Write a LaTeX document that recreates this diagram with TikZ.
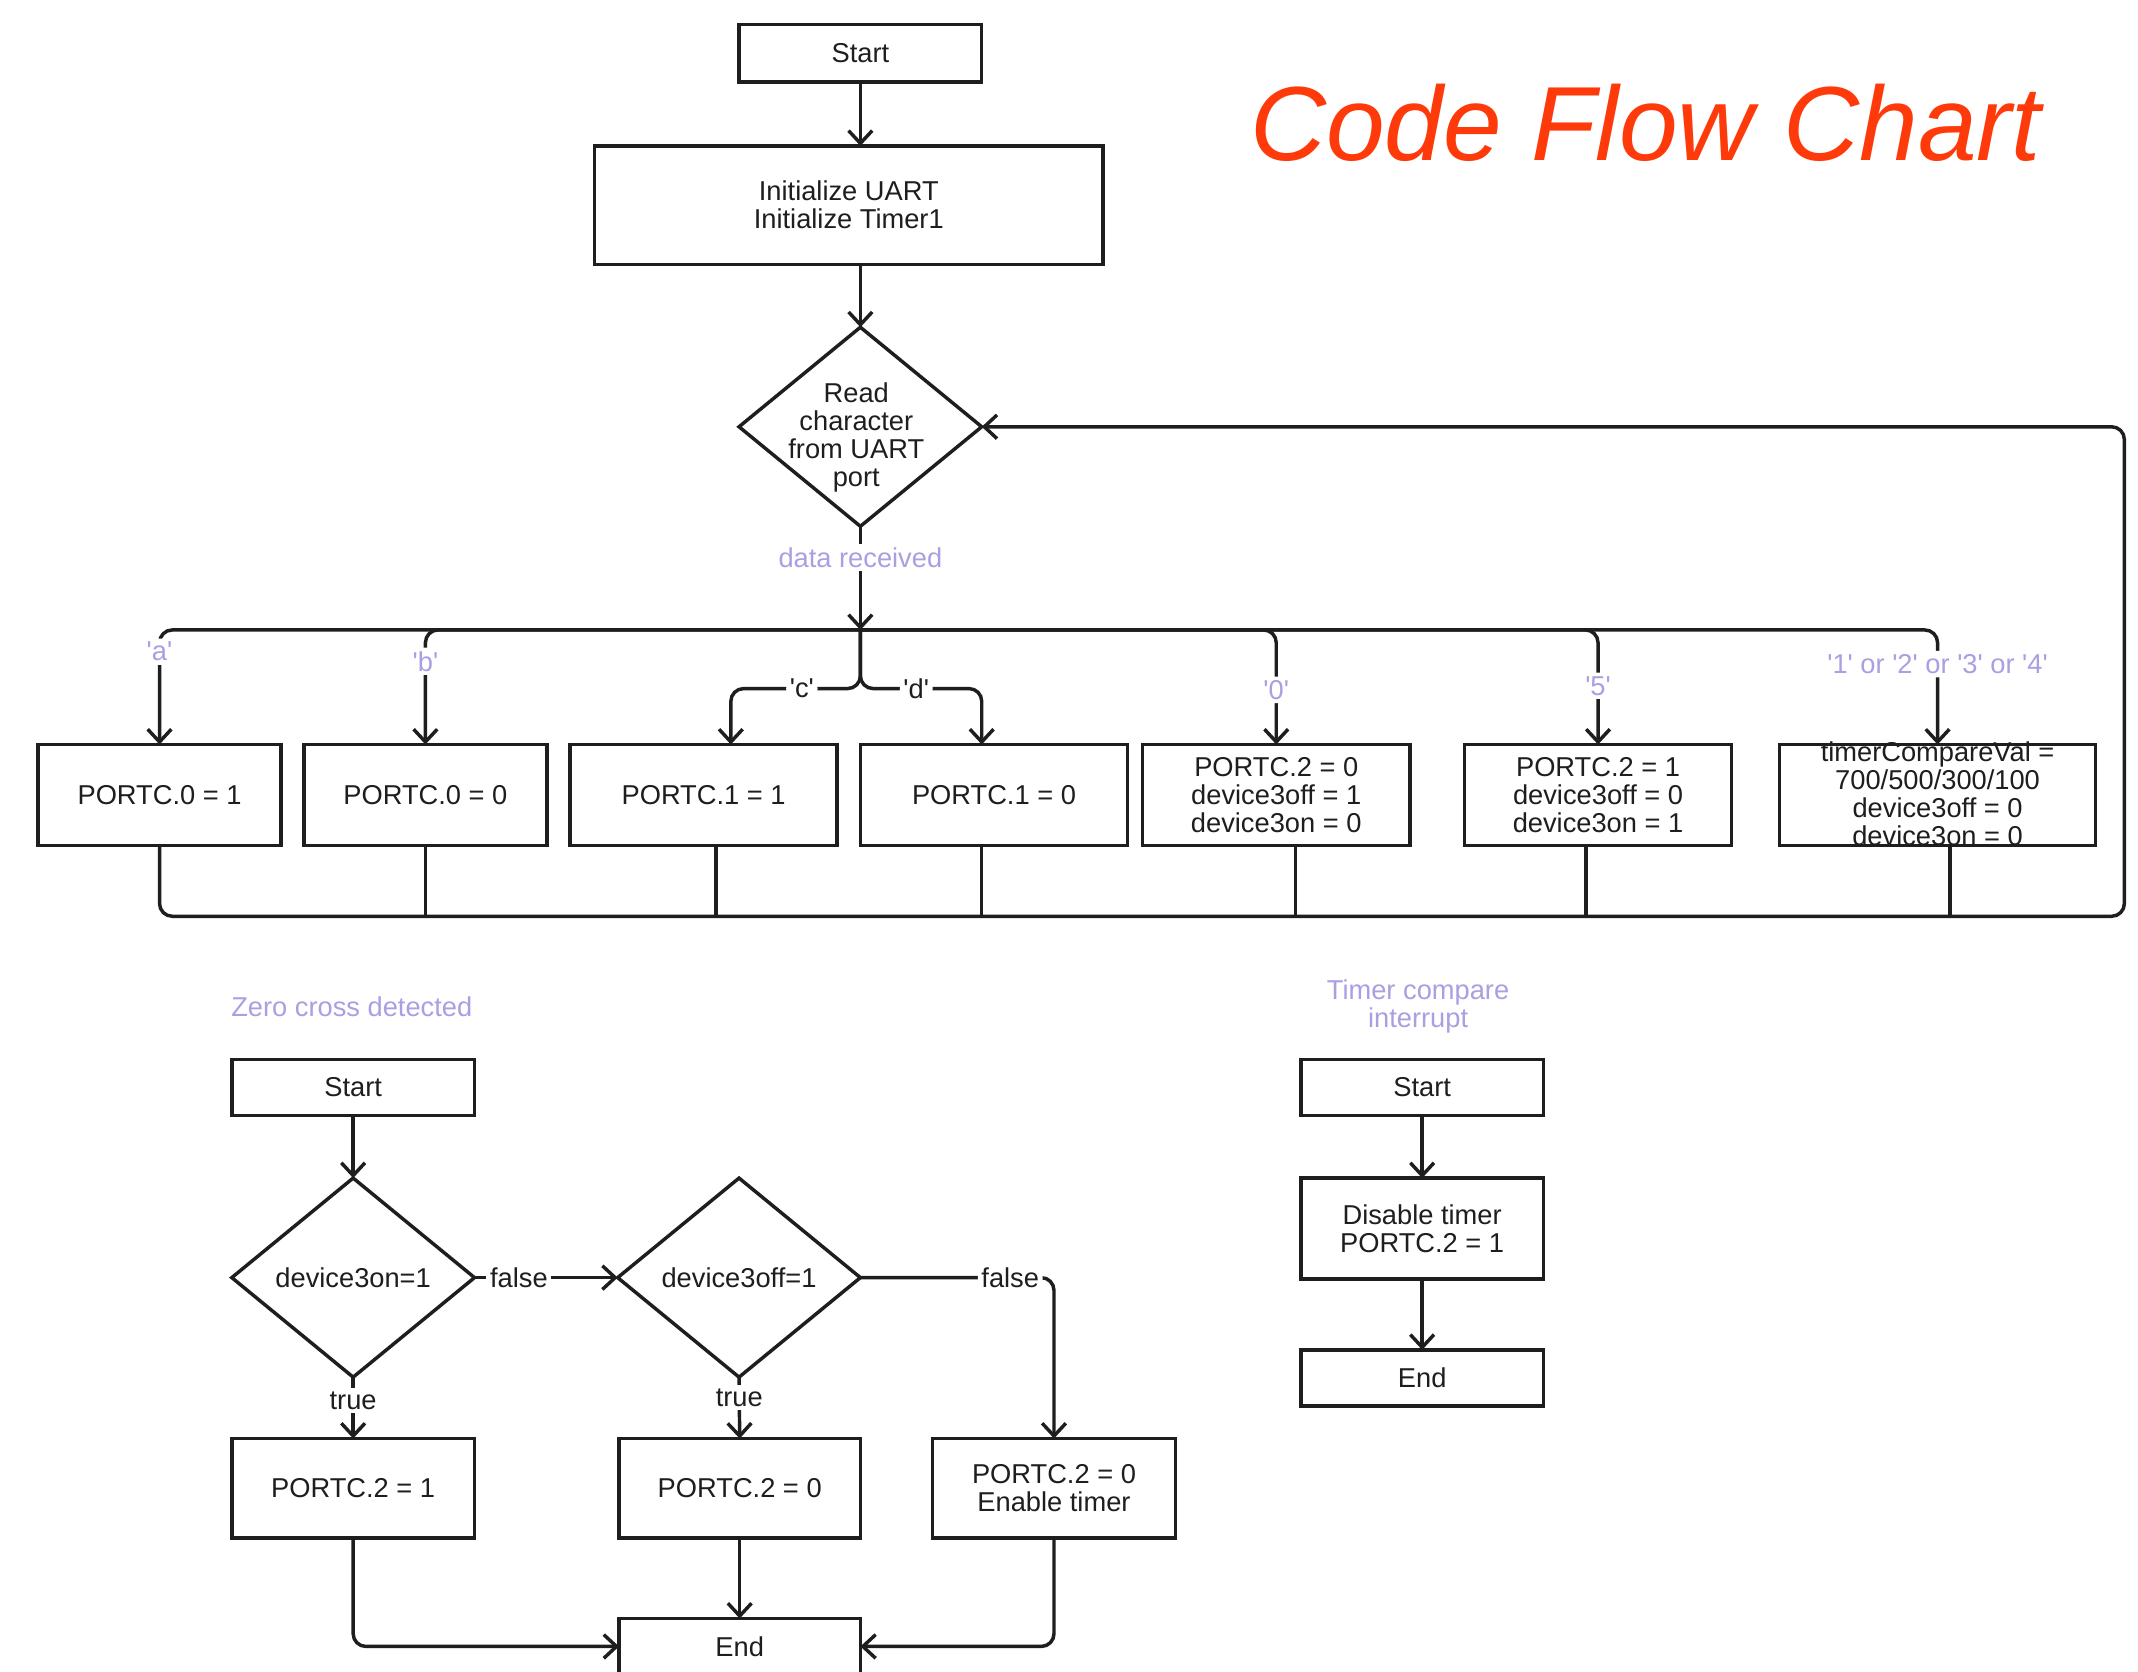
\documentclass[tikz,border=0pt]{standalone}
\usepackage{fontspec}
\setmainfont{Liberation Sans}
\usetikzlibrary{shapes.geometric,arrows.meta}
\definecolor{lav}{RGB}{172,158,226}
\definecolor{titlered}{RGB}{255,58,10}
\definecolor{ink}{RGB}{30,30,30}
\newcommand{\sq}{\textquotesingle}
\begin{document}
\begin{tikzpicture}[x=0.75pt,y=-0.75pt,
  font=\fontsize{15pt}{15.4pt}\selectfont,
  every node/.style={text=ink},
  line/.style={draw=ink, line width=1.9pt},
  arr/.style={line, -{Straight Barb[length=7pt,width=13pt]}},
  bx/.style 2 args={draw=ink, line width=1.9pt, rectangle, inner sep=0pt, outer sep=0pt,
     minimum width=#1*0.75pt, minimum height=#2*0.75pt, align=center},
  dia/.style={draw=ink, line width=1.9pt, diamond, inner sep=0pt, outer sep=0pt,
     minimum width=178*0.75pt, minimum height=146*0.75pt, align=center},
  txt/.style={align=center, inner sep=0pt},
  lbl/.style={text=lav, fill=white, inner sep=2pt},
  blbl/.style={fill=white, inner sep=2pt},
  rc/.style={rounded corners=7pt},
]
\fill[white] (0,0) rectangle (1568,1226);
\useasboundingbox (0,0) rectangle (1568,1226);

% title
\node[font=\fontsize{58pt}{60pt}\selectfont\itshape, text=titlered] (title) at (1207,90) {Code Flow Chart};

% main flow
\node[bx={178}{42}] (s1) at (631,39) {Start};
\node[bx={373}{87}] (init) at (622.5,150.5) {Initialize UART\\Initialize Timer1};
\node[dia] (rd) at (631,313) {};
\node[txt] (rdt) at (628,321) {Read\\character\\from UART\\port};
\coordinate (J) at (631,462);
\coordinate (cj) at (631,505);
\coordinate (R) at (1558,672);

\draw[arr] (s1.south) -- (s1.south |- init.north);
\draw[arr] (rd.north |- init.south) -- (rd.north);
\draw[arr] (rd.south) -- node[lbl, pos=0.30] {data received} (J);

\node[bx={178}{74}] (b1) at (117,583) {PORTC.0 = 1};
\node[bx={178}{74}] (b2) at (312,583) {PORTC.0 = 0};
\node[bx={196}{74}] (b3) at (516,583) {PORTC.1 = 1};
\node[bx={196}{74}] (b4) at (729,583) {PORTC.1 = 0};
\node[bx={196}{74}] (b5) at (936,583) {PORTC.2 = 0\\device3off = 1\\device3on = 0};
\node[bx={196}{74}] (b6) at (1172,583) {PORTC.2 = 1\\device3off = 0\\device3on = 1};
\node[bx={232}{74}] (b7) at (1421,583) {};
\node[txt] (b7t) at (1421,582) {timerCompareVal =\\700/500/300/100\\device3off = 0\\device3on = 0};

\draw[arr, rc] (J) -| node[lbl, pos=0.595] {\sq a\sq} (b1.north);
\draw[arr, rc] (J) -| node[lbl, pos=0.637] {\sq b\sq} (b2.north);
\draw[arr, rc] (J) -- (cj) -| node[blbl, pos=0.226] {\sq c\sq} ([xshift=15pt]b3.north);
\draw[arr, rc] (J) -- (cj) -| node[blbl, pos=0.23] {\sq d\sq} ([xshift=-6.75pt]b4.north);
\draw[arr, rc] (J) -| node[lbl, pos=0.762] {\sq 0\sq} (b5.north);
\draw[arr, rc] (J) -| node[lbl, pos=0.744] {\sq 5\sq} (b6.north);
\draw[arr, rc] (J) -| node[lbl, pos=0.649] {\sq 1\sq{} or \sq 2\sq{} or \sq 3\sq{} or \sq 4\sq} (b7.north);

\draw[arr, rc] (b1.south) |- (R) |- (rd.east);
\draw[line] (b2.south) -- ++(0,52);
\draw[line] ([xshift=6.75pt]b3.south) -- ++(0,52);
\draw[line] ([xshift=-6.75pt]b4.south) -- ++(0,52);
\draw[line] ([xshift=10.5pt]b5.south) -- ++(0,52);
\draw[line] ([xshift=-6.75pt]b6.south) -- ++(0,52);
\draw[line] ([xshift=6.75pt]b7.south) -- ++(0,52);

% zero cross flow
\node[txt, text=lav] (zc) at (258,738) {Zero cross detected};
\node[bx={178}{41}] (s2) at (259,797.5) {Start};
\node[dia] (d1) at (259,937) {device3on=1};
\node[dia] (d2) at (542,937) {device3off=1};
\node[bx={178}{73}] (p1) at (259,1091.5) {PORTC.2 = 1};
\node[bx={177}{73}] (p2) at (542.5,1091.5) {PORTC.2 = 0};
\node[bx={178}{73}] (p3) at (773,1091.5) {PORTC.2 = 0\\Enable timer};
\node[bx={177}{41}] (e2) at (542.5,1207.5) {End};

\draw[arr] (s2.south) -- (d1.north);
\draw[arr] (d1.east) -- node[blbl, pos=0.31] {false} (d2.west);
\draw[arr, rc] (d2.east) -| node[blbl, pos=0.387] {false} (p3.north);
\draw[arr] (d1.south) -- node[blbl, pos=0.38] {true} (p1.north);
\draw[arr] (d2.south) -- node[blbl, pos=0.33] {true} (p2.north);
\draw[arr, rc] (p1.south) |- (e2.west);
\draw[arr] (p2.south) -- (e2.north);
\draw[arr, rc] (p3.south) |- (e2.east);

% timer flow
\node[txt, text=lav] (tc) at (1040,738) {Timer compare\\interrupt};
\node[bx={178}{41}] (s3) at (1043,797.5) {Start};
\node[bx={178}{74}] (dt) at (1043,901) {Disable timer\\PORTC.2 = 1};
\node[bx={178}{41}] (e3) at (1043,1010.5) {End};
\draw[arr] (s3.south) -- (dt.north);
\draw[arr] (dt.south) -- (e3.north);
\end{tikzpicture}
\end{document}
